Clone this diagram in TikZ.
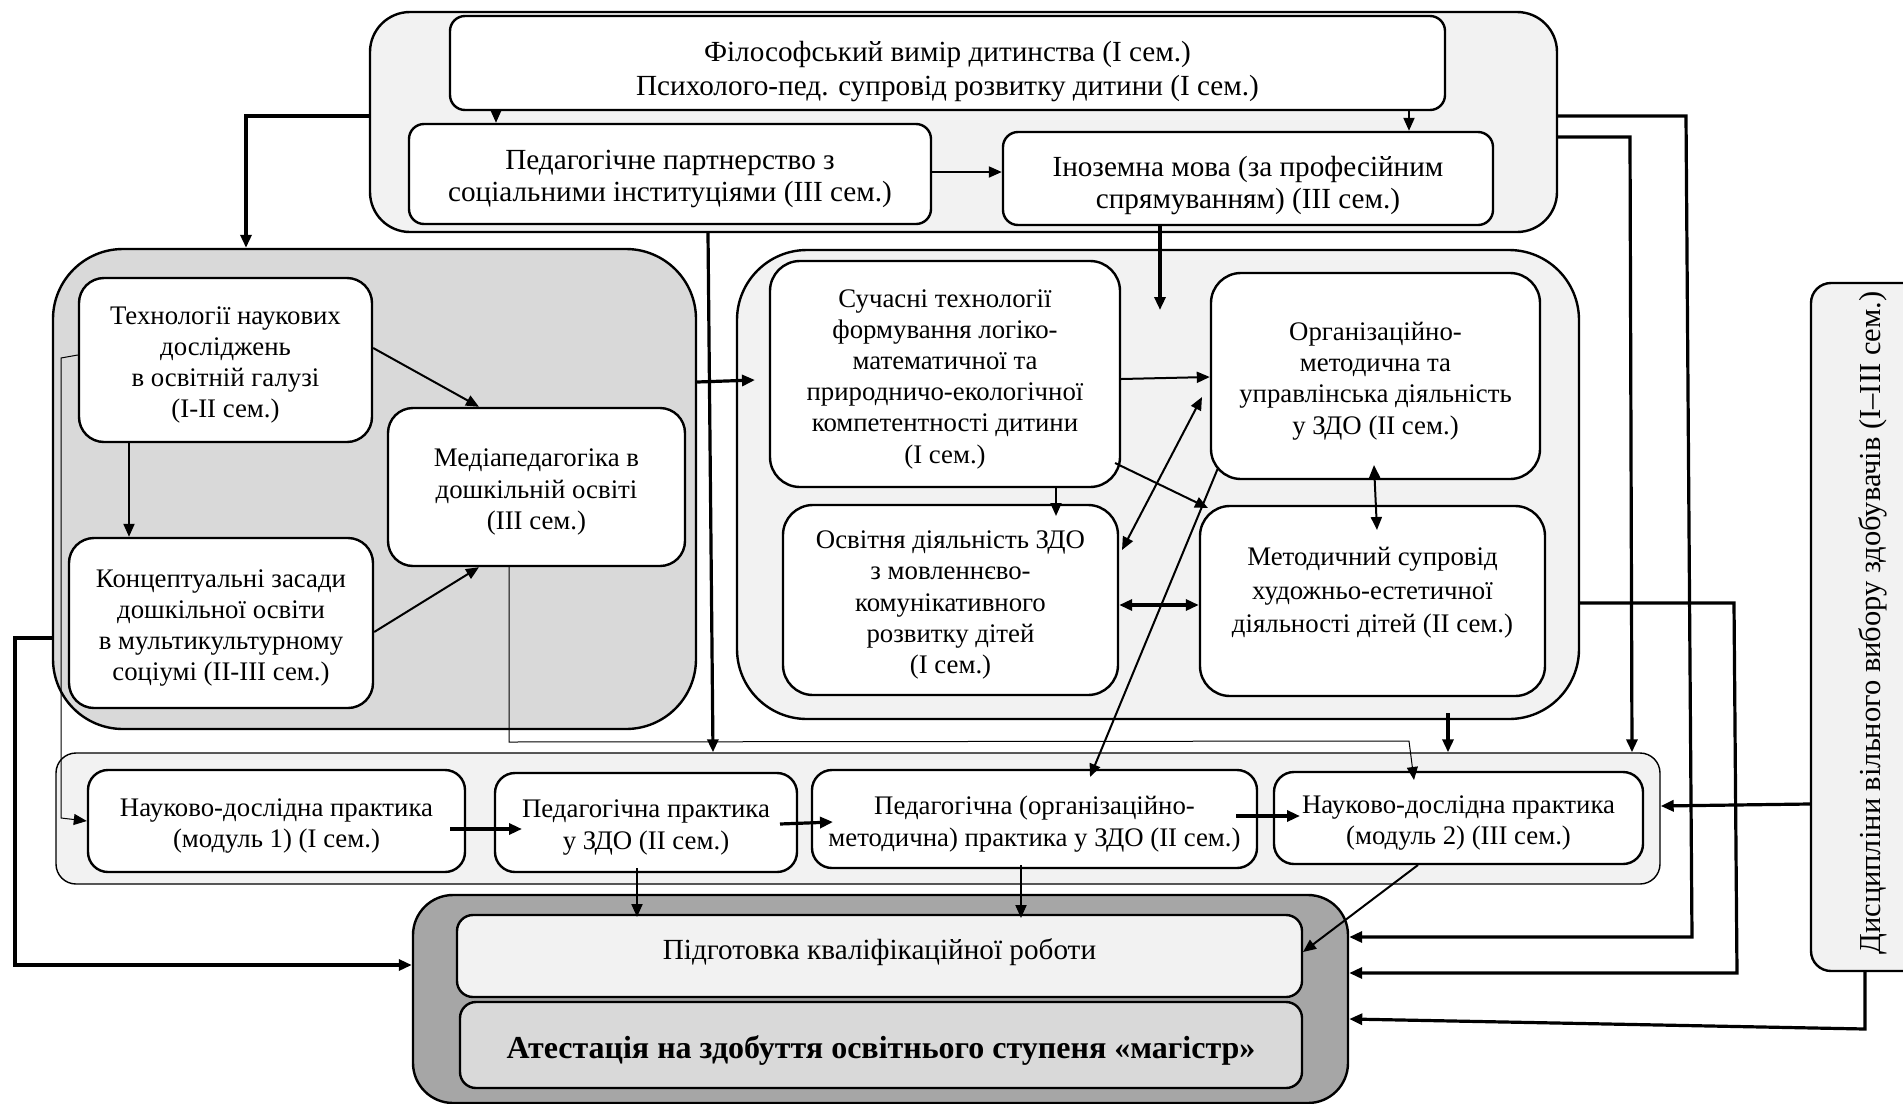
\documentclass[tikz,border=0pt]{standalone}
\usepackage{fontspec}
\setmainfont{Liberation Serif}
\usetikzlibrary{arrows.meta,calc}
\definecolor{gA}{HTML}{F2F2F2}
\definecolor{gB}{HTML}{D9D9D9}
\definecolor{gC}{HTML}{A6A6A6}
\newcommand\fs{\fontsize{13.4}{15.6}\selectfont}
\newcommand\fst{\fontsize{14.6}{15.6}\selectfont}
\newcommand\fsp{\fontsize{14.6}{17}\selectfont}
\newcommand\fsr{\fontsize{15.25}{17}\selectfont}
\newcommand\fsb{\fontsize{16}{18}\selectfont\bfseries}
\begin{document}
\begin{tikzpicture}[x=0.5pt,y=-0.5pt,
  bx/.style={draw, line width=1.2pt, fill=white, rounded corners=#1, inner sep=0pt},
  bx/.default=7.5pt,
  tx/.style={align=center, inner sep=0pt, font=\fs},
  grp/.style={draw, line width=1.2pt, rounded corners=#1, inner sep=0pt},
  ar/.style={-{Triangle[length=6.5pt,width=5.5pt]}, line width=1pt},
  dar/.style={{Triangle[length=6.5pt,width=5.5pt]}-{Triangle[length=6.5pt,width=5.5pt]}, line width=1pt},
  hv/.style={line width=1.6pt},
  tn/.style={line width=0.5pt}]
\fill[white] (0,0) rectangle (1903,1104);
\useasboundingbox (0,0) rectangle (1903,1104);
% groups
\node[grp=20pt, fill=gA, minimum width=593.5pt, minimum height=110pt] (topg) at (963.5,122) {};
\node[grp=35pt, fill=gB, minimum width=321.5pt, minimum height=240pt] (leftg) at (374.5,489) {};
\node[grp=35pt, fill=gA, minimum width=421pt, minimum height=234.5pt] (rightg) at (1158,484.5) {};
\node[grp=10pt, fill=gA, line width=0.7pt, minimum width=802pt, minimum height=65.5pt] (pracg) at (858,818.5) {};
\node[grp=20pt, fill=gC, minimum width=467.5pt, minimum height=104pt] (atg) at (880.5,999) {};
\node[grp=10pt, fill=gA, minimum width=62pt, minimum height=344pt] (dysc) at (1873,627) {};
\node[rotate=90, font=\fsr, inner sep=0pt] (dysct) at (1873,623) {Дисципліни вільного вибору здобувачів (І–ІІІ сем.)};
% top boxes
\node[bx, minimum width=497.5pt, minimum height=47pt] (phil) at (947.5,63) {};
\node[tx, font=\fsp] (philT) at ($(phil)+(0,9)$) {Філософський вимір дитинства (І сем.)\\Психолого-пед. супровід розвитку дитини (І сем.)};
\node[bx, minimum width=261pt, minimum height=50pt] (partn) at (670,174) {};
\node[tx, font=\fst] (partnT) at ($(partn)+(0,5)$) {Педагогічне партнерство з\\соціальними інституціями (ІІІ сем.)};
\node[bx, minimum width=245pt, minimum height=46.5pt] (inoz) at (1248,178.5) {};
\node[tx, font=\fst] (inozT) at ($(inoz)+(0,7)$) {Іноземна мова (за професійним\\спрямуванням) (ІІІ сем.)};
% left group boxes
\node[bx=12.5pt, minimum width=146.5pt, minimum height=82pt] (tech) at (225.5,360) {};
\node[tx] (techT) at ($(tech)+(0,5)$) {Технології наукових\\досліджень\\в освітній галузі\\(І-ІІ сем.)};
\node[bx=12.5pt, minimum width=148.5pt, minimum height=79pt] (media) at (536.5,487) {};
\node[tx] (mediaT) at ($(media)+(0,5)$) {Медіапедагогіка в\\дошкільній освіті\\(ІІІ сем.)};
\node[bx=12.5pt, minimum width=152pt, minimum height=85pt] (konc) at (221,623) {};
\node[tx] (koncT) at ($(konc)+(0,5)$) {Концептуальні засади\\дошкільної освіти\\в мультикультурному\\соціумі (ІІ-ІІІ сем.)};
% right group boxes
\node[bx=15pt, minimum width=175pt, minimum height=113pt] (suc) at (945,374) {};
\node[tx] (sucT) at ($(suc)+(0,5)$) {Сучасні технології\\формування логіко-\\математичної та\\природничо-екологічної\\компетентності дитини\\(І сем.)};
\node[bx=15pt, minimum width=164.5pt, minimum height=103pt] (org) at (1375.5,376) {};
\node[tx] (orgT) at ($(org)+(0,5)$) {Організаційно-\\методична та\\управлінська діяльність\\у ЗДО (ІІ сем.)};
\node[bx=15pt, minimum width=167.5pt, minimum height=95pt] (osv) at (950.5,600) {};
\node[tx] (osvT) at ($(osv)+(0,5)$) {Освітня діяльність ЗДО\\з мовленнєво-\\комунікативного\\розвитку дітей\\(І сем.)};
\node[bx=15pt, minimum width=172.5pt, minimum height=95pt] (met) at (1372.5,601) {};
\node[tx, font=\fontsize{13.4}{16.8}\selectfont] (metT) at ($(met)+(0,-8)$) {Методичний супровід\\художньо-естетичної\\діяльності дітей (ІІ сем.)};
% practice boxes
\node[bx=10pt, minimum width=188.5pt, minimum height=51pt] (nauk1) at (276.5,821) {};
\node[tx] (nauk1T) at ($(nauk1)+(0,5)$) {Науково-дослідна практика\\(модуль 1) (І сем.)};
\node[bx=10pt, minimum width=151pt, minimum height=49.5pt] (pedpr) at (646,822.5) {};
\node[tx] (pedprT) at ($(pedpr)+(0,5)$) {Педагогічна практика\\у ЗДО (ІІ сем.)};
\node[bx=10pt, minimum width=222.5pt, minimum height=49pt] (pedorg) at (1034.5,819) {};
\node[tx] (pedorgT) at ($(pedorg)+(0,5)$) {Педагогічна (організаційно-\\методична) практика у ЗДО (ІІ сем.)};
\node[bx=10pt, minimum width=184.5pt, minimum height=46pt] (nauk2) at (1458.5,818) {};
\node[tx] (nauk2T) at ($(nauk2)+(0,5)$) {Науково-дослідна практика\\(модуль 2) (ІІІ сем.)};
% final boxes
\node[bx=8pt, fill=gA, minimum width=422.5pt, minimum height=41pt] (pidg) at (879.5,956) {};
\node[tx, font=\fst] (pidgT) at ($(pidg)+(0,-4)$) {Підготовка кваліфікаційної роботи};
\node[bx=8pt, fill=gB, minimum width=421pt, minimum height=43pt] (atest) at (881,1045) {};
\node[tx, font=\fsb] (atestT) at ($(atest)+(0,5)$) {Атестація на здобуття освітнього ступеня «магістр»};
% connectors
\draw[ar] (496,0 |- phil.south) -- (496,0 |- partn.north);
\draw[ar] (1409,0 |- phil.south) -- (1409,0 |- inoz.north);
\draw[ar] (partn.east |- 0,172) -- (inoz.west |- 0,172);
\draw[ar,hv] (topg.west |- 0,116) -| (246,0 |- leftg.north);
\draw[ar,hv] (708,0 |- topg.south) -- (713,0 |- pracg.north);
\draw[ar,hv] (1160,0 |- inoz.south) -- (1160,310);
\draw[ar,hv] (topg.east |- 0,116) -- (1686,116) -- (1692,937) -- (atg.east |- 0,937);
\draw[ar,hv] (topg.east |- 0,137) -- (1630,137) -- (1632,0 |- pracg.north);
\draw[ar,hv] (rightg.east |- 0,603) -- (1734,603) -- (1737,973) -- (atg.east |- 0,973);
\draw[ar,hv] (dysc.west |- 0,804) -- (pracg.east |- 0,806);
\draw[ar,hv] (1865,0 |- dysc.south) -- (1865,1029) -- (atg.east |- 0,1019);
\draw[ar,hv] (leftg.west |- 0,638) -- (15,638) -- (15,965) -- (atg.west |- 0,965);
\draw[ar,hv] (leftg.east |- 0,382) -- (755,380);
\draw[ar] (tech.east |- 0,348) -- (479,0 |- media.north);
\draw[ar] (129,0 |- tech.south) -- (129,0 |- konc.north);
\draw[ar] (konc.east |- 0,632) -- (479,0 |- media.south);
\draw[ar,tn] (tech.west |- 0,355) -- (61,358) -- (61,818) -- (nauk1.west |- 0,821);
\draw[ar,tn] (509,0 |- media.south) -- (509,742) -- (1409,741) -- (1414,780);
\draw[ar] (suc.east |- 0,379) -- (org.west |- 0,377);
\draw[ar] (1115,463) -- (1208,508);
\draw[ar] (1056,0 |- suc.south) -- (1056,516);
\draw[dar] (1202,397) -- (1122,550);
\draw[ar] (1218,468) -- (1090,777);
\draw[dar] (1374,465) -- (1377,530);
\draw[dar,hv] (osv.east |- 0,605) -- (met.west |- 0,605);
\draw[ar,hv] (1448,713) -- (1448,0 |- pracg.north);
\draw[ar,hv] (450,829) -- (522,829);
\draw[ar,hv] (780,824) -- (833,822);
\draw[ar,hv] (1236,816) -- (1300,816);
\draw[ar] (637,868) -- (637,917);
\draw[ar] (1021,865) -- (1021,918);
\draw[ar] (1418,865) -- (1303,952);
\end{tikzpicture}
\end{document}
